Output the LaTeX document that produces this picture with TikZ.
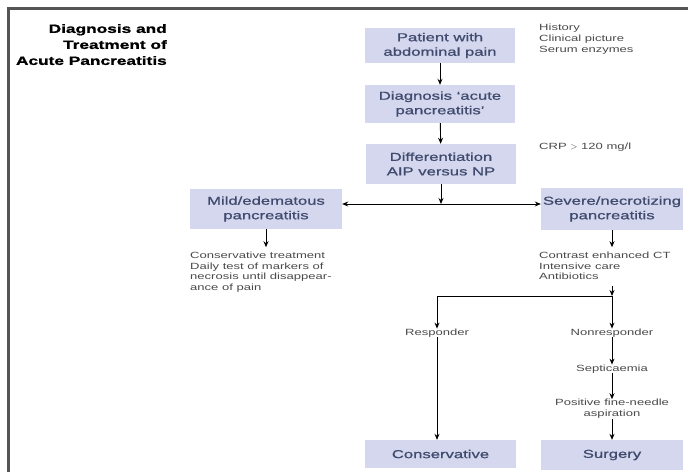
\documentclass[tikz,border=0pt]{standalone}
\usepackage{fontspec}
\setmainfont{Liberation Sans}[FakeStretch=1.45]
\newfontfamily\boxfont{Liberation Sans}[FakeStretch=1.45,FakeBold=0.9,Ligatures=TeX]
\newfontfamily\titlefont{Liberation Sans Bold}[FakeStretch=1.44,FakeBold=1.2]
\usetikzlibrary{arrows.meta,calc}
\definecolor{boxfill}{HTML}{D4D7EE}
\definecolor{boxtext}{HTML}{3F4A6C}
\definecolor{smalltext}{HTML}{4A4A4A}
\definecolor{framec}{HTML}{555555}
\begin{document}
\begin{tikzpicture}[x=1pt,y=-1pt,
  box/.style={fill=boxfill,draw=none,text=boxtext,align=center,inner sep=0pt,
    font=\boxfont\fontsize{11.5}{14.5}\selectfont},
  small/.style={text=smalltext,inner sep=0pt,align=left,
    font=\fontsize{9}{10.8}\selectfont},
  smallc/.style={small,align=center},
  arr/.style={-{Stealth[length=6pt,width=5pt]},line width=0.9pt,black}]
\useasboundingbox (0,0) rectangle (688,472);
\fill[white] (0,0) rectangle (688,472);
\draw[framec,line width=2.4pt] (688,8.5) -- (8.5,8.5) -- (8.5,472);
% title
\node[anchor=north east,align=right,inner sep=0pt,font=\titlefont\fontsize{12}{16}\selectfont] (title) at (167,24)
  {Diagnosis and\\Treatment of\\Acute Pancreatitis};
% boxes
\node[box,minimum width=150pt,minimum height=35pt] (pat) at (440,45.5) {Patient with\\abdominal pain};
\node[box,minimum width=150pt,minimum height=38pt] (dia) at (440,104) {Diagnosis ‘acute\\pancreatitis’};
\node[box,minimum width=150pt,minimum height=40pt] (dif) at (441,164) {Differentiation\\AIP versus NP};
\node[box,minimum width=152pt,minimum height=40pt] (mild) at (266,209) {Mild/edematous\\pancreatitis};
\node[box,minimum width=142pt,minimum height=42pt] (sev) at (612,209) {Severe/necrotizing\\pancreatitis};
\node[box,minimum width=151pt,minimum height=28pt] (cons) at (440.5,454) {Conservative};
\node[box,minimum width=142pt,minimum height=30pt] (surg) at (612,455) {Surgery};
% side notes
\node[small,anchor=north west] (hist) at (539,24) {History\\Clinical picture\\Serum enzymes};
\node[small,anchor=west] (crp) at (539,147) {CRP $>$ 120 mg/l};
\node[small,anchor=north west] (mildtxt) at (190,251.5) {Conservative treatment\\Daily test of markers of\\necrosis until disappear-\\ance of pain};
\node[small,anchor=north west] (sevtxt) at (539,251.5) {Contrast enhanced CT\\Intensive care\\Antibiotics};
\node[small] (resp) at (437,333) {Responder};
\node[small] (nonr) at (612,333) {Nonresponder};
\node[small] (sept) at (612,369) {Septicaemia};
\node[smallc] (fna) at (612,409) {Positive fine-needle\\aspiration};
% junctions
\coordinate (j1) at (441,204);
\coordinate (j2) at (612,296);
\coordinate (j3) at (437,296);
\coordinate (st) at (612,286);
% connectors
\draw[arr] (pat) -- (dia);
\draw[arr] (dia) -- (dif);
\draw[arr] (dif) -- (j1);
\draw[arr] (j1) -- (j1 -| mild.east);
\draw[arr] (j1) -- (j1 -| sev.west);
\draw[arr] (mild.south) -- ++(0,18);
\draw[arr] (sev.south) -- ++(0,17);
\draw[arr] (st) -- (j2);
\draw[arr] (j2) -- (nonr.north);
\draw[arr] (j2) -- (j3) -- (resp.north);
\draw[arr] (resp.south) -- (resp.south |- cons.north);
\draw[arr] (nonr) -- (sept);
\draw[arr] (sept) -- (fna);
\draw[arr] (fna) -- (surg);
\end{tikzpicture}
\end{document}
